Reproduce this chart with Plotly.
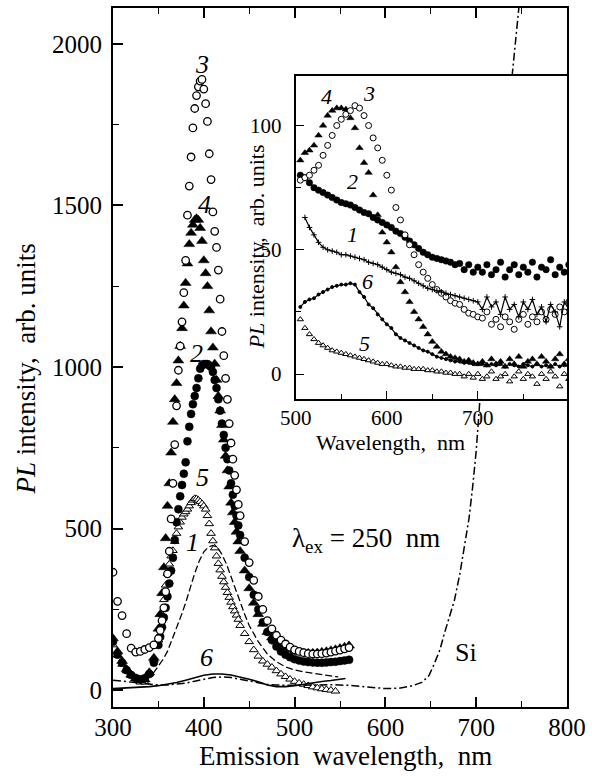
import plotly.graph_objects as go

FONT = "Liberation Serif"

# ---------------- main panel data (emission wavelength, nm / PL intensity) -------------
MAIN_WL = [300, 305, 310, 315, 320, 325, 330, 335, 340, 345, 350,
           352, 354, 356, 358, 360, 362, 364, 366, 368, 370, 372, 374, 376, 378, 380,
           382, 384, 386, 388, 390, 392, 394, 396, 398, 400, 402, 404, 406, 408, 410,
           412, 414, 416, 418, 420, 422, 424, 426, 428, 430, 432, 434, 436, 438, 440,
           445, 450, 455, 460, 465, 470, 475, 480, 485, 490, 495, 500, 505, 510, 515,
           520, 525, 530, 535, 540, 545, 550, 555, 560]

CURVE3 = [365, 275, 231, 175, 130, 118, 120, 126, 132, 140, 160,
          185, 215, 255, 305, 360, 430, 530, 640, 760, 880, 990, 1065, 1140, 1230, 1330,
          1470, 1560, 1650, 1740, 1800, 1840, 1867, 1885, 1890, 1860, 1815, 1760, 1660, 1580, 1480,
          1420, 1370, 1300, 1210, 1110, 1035, 965, 900, 825, 765, 715, 665, 620, 575, 540,
          460, 395, 340, 290, 250, 215, 190, 170, 155, 143, 133, 125, 120, 116, 113,
          112, 112, 113, 115, 118, 121, 124, 128, 132]

CURVE4 = [160, 120, 90, 65, 48, 36, 30, 33, 55, 100, 190,
          235, 300, 380, 470, 570, 640, 735, 830, 900, 950, 1020, 1065, 1120, 1190, 1260,
          1320, 1380, 1415, 1440, 1455, 1460, 1455, 1430, 1390, 1330, 1290, 1250, 1175, 1110, 1060,
          1010, 960, 910, 865, 820, 775, 725, 680, 630, 580, 550, 520, 490, 460, 430,
          370, 315, 270, 235, 205, 180, 163, 150, 140, 132, 126, 121, 118, 116, 115,
          115, 116, 118, 120, 123, 126, 130, 134, 138]

CURVE2 = [150, 110, 85, 62, 47, 38, 34, 37, 50, 85, 140,
          165, 195, 225, 255, 290, 330, 370, 410, 465, 520, 560, 600, 635, 670, 705,
          770, 815, 855, 885, 910, 935, 965, 995, 1005, 1009, 1009, 1009, 1005, 1000, 985,
          960, 935, 900, 865, 825, 790, 750, 715, 680, 640, 605, 570, 540, 510, 480,
          410, 350, 295, 250, 210, 180, 155, 135, 120, 110, 102, 96, 92, 89, 87,
          86, 85, 85, 86, 87, 88, 90, 92, 94]

CURVE5 = [140, 108, 80, 60, 45, 35, 25, 25, 50, 95, 155,
          195, 235, 280, 325, 361, 390, 415, 432, 460, 485, 505, 520, 535, 545, 552,
          560, 570, 580, 588, 593, 592, 588, 583, 577, 570, 560, 540, 515, 485, 462,
          440, 415, 392, 372, 352, 335, 318, 302, 287, 272, 258, 245, 232, 219, 200,
          175, 150, 125, 105, 90, 80, 71, 60, 50, 42, 34, 27, 22, 18, 14,
          10, 7, 4, 2, 0, -3, None, None, None]

CURVE1_WL = [325, 330, 335, 340, 345, 350, 355, 360, 365, 370, 375, 380, 385, 390, 395, 400,
             405, 410, 415, 420, 425, 430, 435, 440, 445, 450, 460, 470, 480, 490, 500, 510,
             520, 530, 540, 548]
CURVE1 = [32, 30, 32, 40, 55, 75, 95, 120, 155, 194, 230, 270, 318, 362, 400, 428,
          443, 448, 442, 420, 390, 350, 310, 270, 235, 200, 150, 112, 88, 72, 63, 57,
          52, 48, 44, 41]

CURVE6_WL = [300, 310, 320, 330, 340, 350, 360, 370, 380, 390, 400, 410, 420, 430, 440, 450,
             460, 470, 480, 490, 500, 510, 520, 530, 540, 550, 556]
CURVE6 = [5, 6, 7, 9, 11, 14, 18, 24, 31, 39, 46, 50, 50, 47, 41, 34,
          26, 16, 11, 11, 14, 19, 23, 27, 30, 33, 36]

SI_WL = [300, 310, 320, 330, 340, 350, 360, 370, 380, 390, 400, 410, 420, 430, 440, 450,
         460, 470, 480, 490, 500, 520, 540, 560, 580, 600, 615, 630, 640, 648, 654, 660,
         665, 670, 676, 682, 687, 692, 696, 700, 704, 740, 748]
SI = [31, 28, 25, 21, 18, 16, 16, 18, 22, 28, 34, 39, 41, 39, 34, 28,
      22, 18, 16, 15, 15, 16, 17, 15, 10, 5, 6, 14, 24, 45, 83, 125,
      176, 225, 278, 360, 441, 530, 627, 740, 895, 1901, 2140]

# ---------------- inset data (wavelength, nm / PL intensity) -------------
IN_WL = [505, 510, 515, 520, 525, 530, 535, 540, 545, 550, 555, 560, 565, 570, 575,
         580, 585, 590, 595, 600, 605, 610, 615, 620, 625, 630, 635, 640, 645, 650,
         655, 660, 665, 670, 675, 680, 685, 690, 695, 700, 705, 710, 715, 720, 725,
         730, 735, 740, 745, 750, 755, 760, 765, 770, 775, 780, 785, 790, 795, 800]
IN2 = [80, 79, 77, 75, 74, 73, 72, 71, 70, 69, 68.5, 68, 67, 66, 65,
       64.5, 63, 62, 61, 60, 59, 57.5, 56.5, 55, 53.5, 52, 50.5, 49, 48, 47,
       46.5, 46, 45.5, 45, 44, 44.5, 42, 44, 41, 43, 41, 44, 40, 42, 45,
       39, 42, 44, 40, 43, 41, 45, 39, 43, 42, 46, 40, 43, 41, 44]
IN3 = [78, 79, 80, 82, 84, 88, 92, 96, 100, 102.5, 104.5, 106, 108, 107, 104,
       100, 95, 91, 86, 80, 74, 67, 62, 56, 52, 48, 44, 41, 38.5, 36,
       34, 32.5, 31, 29.5, 28.5, 28, 26, 24.5, 24, 23, 22.5, 25, 20, 22, 19,
       23, 21, 18, 22, 24, 20, 23, 21, 25, 22, 26, 24, 27, 25, 29]
IN4 = [86, 89, 90, 92, 96, 100, 104, 106, 107, 107, 106.5, 103, 99, 91, 85,
       81, 72, 64, 57, 53, 49, 43, 37, 33, 29, 25, 22, 19, 16, 13,
       11, 9, 8, 7, 6.5, 6, 5, 5.5, 4.5, 4, 5, 3.5, 6, 4, 5,
       3, 6, 4, 7, 3, 5, 6, 4, 7, 5, 3, 6, 8, 4, 6]
IN1 = [None, 63, 59, 56, 53, 51, 50, 49.5, 49, 48, 48, 47.5, 47, 46.5, 46,
       45, 44.5, 44, 43, 42, 41, 40.5, 40, 39, 38.5, 37.5, 36.5, 35.5, 34.5, 34,
       33.5, 33, 32.5, 32, 31.5, 31, 30.5, 30, 29.5, 29, 26, 31, 27, 29, 24,
       31, 26, 28, 23, 29, 26, 30, 24, 27, 21, 28, 25, 19, 29, 26]
IN6 = [27, 29, 30, 30.5, 32, 33, 34, 35, 35.5, 36, 36, 36.5, 36, 33, 31,
       28, 26.5, 24, 22, 20, 18.5, 16, 14.5, 13.5, 12.5, 11.5, 10.5, 9.5, 9, 8,
       7, 6.5, 6, 5.5, 5, 5, 4.5, 4.5, 4, 4, 4, 3.5, 4, 3.5, 4,
       3, 4, 3.5, 3, 4, 3.5, 3, 4, 3, 3.5, 3, 4, 3, 3.5, 3]
IN5 = [22, 18.5, 16, 14, 12.5, 11.5, 10.5, 9.5, 9, 8.5, 8, 7.5, 7, 6.5, 6,
       5.5, 5, 4.5, 4, 4, 3.5, 3, 3, 2.5, 2.5, 2, 2, 2, 1.5, 1.5,
       1, 1, 0.5, 0.5, 0, 0, -1, 0, -1.5, 0, -2, -1, 1, -2, -1,
       0, -3, -1, 1, -2, 0, -1, -4, 0, -2, 1, -1, -5, 0, -2]

MAIN_XTICKS = [300, 400, 500, 600, 700, 800]
MAIN_YTICKS = [0, 500, 1000, 1500, 2000]
IN_XTICKS = [500, 600, 700]
IN_YTICKS = [0, 50, 100]

# ---------------- figure geometry -------------
W, H = 592, 776
ML, MR, MT, MB = 113, 22, 6, 69
PW, PH = W - ML - MR, H - MT - MB


def px(xp, yp):
    return (xp - ML) / PW, (H - MB - yp) / PH


fig = go.Figure()


def markers(x, y, symbol, size, fill, lw, xa="x", ya="y"):
    fig.add_trace(go.Scatter(
        x=x, y=y, mode="markers", xaxis=xa, yaxis=ya, showlegend=False, hoverinfo="skip",
        marker=dict(symbol=symbol, size=size, color=fill, line=dict(color="black", width=lw))))


def line(x, y, dash, width, xa="x", ya="y", mode="lines", msym="circle", msize=3):
    fig.add_trace(go.Scatter(
        x=x, y=y, mode=mode, xaxis=xa, yaxis=ya, showlegend=False, hoverinfo="skip",
        line=dict(color="black", width=width, dash=dash),
        marker=dict(symbol=msym, size=msize, color="black", line=dict(color="black", width=1))))


# main panel
markers(MAIN_WL, CURVE5, "triangle-up", 7.5, "white", 1.0)
markers(MAIN_WL, CURVE2, "circle", 8, "black", 0.5)
markers(MAIN_WL, CURVE4, "triangle-up", 9.5, "black", 0.5)
markers(MAIN_WL, CURVE3, "circle", 7.5, "white", 1.3)
line(CURVE1_WL, CURVE1, "7px,3px", 1.3)
line(CURVE6_WL, CURVE6, "solid", 1.6)
line(SI_WL, SI, "8px,3px,2px,3px", 1.5)

# inset panel
markers(IN_WL, IN2, "circle", 6.5, "black", 0.5, "x2", "y2")
markers(IN_WL, IN4, "triangle-up", 6.5, "black", 0.5, "x2", "y2")
markers(IN_WL, IN3, "circle", 6, "white", 1.0, "x2", "y2")
line(IN_WL, IN1, "solid", 1.2, "x2", "y2", mode="lines+markers", msym="cross-thin-open", msize=4)
line(IN_WL, IN6, "solid", 1.2, "x2", "y2", mode="lines+markers", msym="circle", msize=3)
markers(IN_WL, IN5, "triangle-up", 5.5, "white", 1.0, "x2", "y2")

tick_main = dict(family=FONT, size=25, color="black")
tick_in = dict(family=FONT, size=21, color="black")

common = dict(showgrid=False, zeroline=False, showline=True, linecolor="black", linewidth=2,
              ticks="inside", tickcolor="black")

fig.update_layout(
    width=W, height=H, margin=dict(l=ML, r=MR, t=MT, b=MB),
    paper_bgcolor="white", plot_bgcolor="white", showlegend=False,
    font=dict(family=FONT, color="black"),
    xaxis=dict(**common, range=[300, 800], tickvals=MAIN_XTICKS, ticklen=10, tickwidth=1.5,
               mirror="ticks", tickfont=tick_main, ticklabelstandoff=-3,
               minor=dict(dtick=50, tick0=300, ticks="inside", ticklen=6, tickwidth=1.3,
                          tickcolor="black")),
    yaxis=dict(**common, range=[-52, 2111], tickvals=MAIN_YTICKS, ticklen=10, tickwidth=1.5,
               mirror=True, tickfont=tick_main, ticklabelstandoff=4,
               minor=dict(dtick=250, tick0=0, ticks="inside", ticklen=6, tickwidth=1.3,
                          tickcolor="black")),
    xaxis2=dict(**common, domain=[(297 - ML) / PW, 1.0], anchor="y2", range=[500, 798],
                tickvals=IN_XTICKS, ticklen=8, tickwidth=1.3, mirror=True, tickfont=tick_in,
                ticklabelstandoff=-1,
                minor=dict(dtick=50, tick0=500, ticks="inside", ticklen=5, tickwidth=1.2,
                           tickcolor="black")),
    yaxis2=dict(**common, domain=[(H - MB - 398) / PH, (H - MB - 74) / PH], anchor="x2",
                range=[-10, 120], tickvals=IN_YTICKS, ticklen=8, tickwidth=1.3, mirror=True,
                tickfont=tick_in, ticklabelstandoff=8,
                minor=dict(dtick=25, tick0=0, ticks="inside", ticklen=5, tickwidth=1.2,
                           tickcolor="black")),
)


def label(text, xp, yp, size, angle=0):
    x, y = px(xp, yp)
    fig.add_annotation(text=text, x=x, y=y, xref="paper", yref="paper", showarrow=False,
                       xanchor="center", yanchor="middle", textangle=angle,
                       font=dict(family=FONT, size=size, color="black"))


# axis titles
label("Emission\u00a0 wavelength,\u00a0 nm", 347, 756, 27)
label("<i>PL</i> intensity,\u00a0 arb. units", 25, 368, 27, -90)
label("Wavelength,\u00a0 nm", 392, 442, 22)
label("<i>PL</i> intensity,\u00a0 arb. units", 257, 246, 22, -90)

# annotations in the main panel
label("\u03bb<sub>ex</sub> = 250\u00a0 nm", 368, 540, 27)
label("Si", 468, 652, 26)
for t, xp, yp in [("3", 203, 63), ("4", 205, 203), ("2", 197, 352), ("5", 203, 477),
                  ("1", 193, 542), ("6", 207, 657)]:
    label("<i>%s</i>" % t, xp, yp, 26)

# annotations in the inset
for t, xp, yp in [("4", 328, 95), ("3", 371, 92), ("2", 354, 180), ("1", 354, 233),
                  ("6", 369, 280), ("5", 366, 342)]:
    label("<i>%s</i>" % t, xp, yp, 22)

fig.write_html("out.html")
